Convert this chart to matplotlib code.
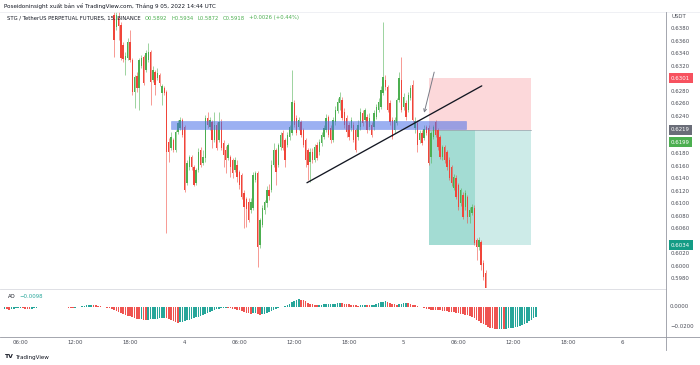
import numpy as np
import pandas as pd
import matplotlib
matplotlib.use("Agg")
import matplotlib.pyplot as plt
import matplotlib.dates as mdates
import matplotlib.transforms as mtransforms
from matplotlib.patches import Rectangle
from matplotlib.lines import Line2D

plt.rcParams['font.family'] = ['DejaVu Sans']

# ---------------- data ----------------
candle_start = '2022-09-03 16:15'   # 15-minute candles
opens = [
    .6402, .6383, .6398, .6386, .6354, .6330, .6334, .6359, .6330, .6279,
    .6305, .6286, .6321, .6335, .6314, .6330, .6343, .6298, .6311, .6302,
    .6306, .6278, .6286, .6279, .6199, .6190, .6202, .6186, .6215, .6222,
    .6234, .6223, .6134, .6159, .6175, .6159, .6134, .6154, .6186, .6166,
    .6174, .6238, .6223, .6231, .6202, .6226, .6202, .6231, .6198, .6186,
    .6174, .6175, .6170, .6154, .6162, .6151, .6146, .6118, .6108, .6103,
    .6090, .6094, .6138, .6150, .6034, .6066, .6090, .6102, .6122, .6122,
    .6162, .6186, .6162, .6191, .6214, .6202, .6194, .6207, .6214, .6262,
    .6238, .6223, .6231, .6218, .6202, .6186, .6167, .6183, .6170, .6194,
    .6183, .6198, .6207, .6218, .6239, .6222, .6202, .6231, .6249, .6262,
    .6266, .6247, .6238, .6226, .6222, .6226, .6218, .6207, .6223, .6246,
    .6234, .6239, .6223, .6226, .6223, .6239, .6250, .6255, .6278, .6298,
    .6287, .6262, .6234, .6218, .6230, .6266, .6298, .6255, .6262, .6250,
    .6270, .6290, .6222, .6230, .6202, .6214, .6206, .6223, .6222, .6175,
    .6207, .6231, .6218, .6207, .6175, .6191, .6183, .6170, .6159, .6126,
    .6142, .6130, .6102, .6114, .6095, .6111, .6079, .6086, .6094, .6042,
    .6031, .6039, .6006, .5990, .5954, .5938, .5946, .5927, .5914, .5922,
    .5906, .5898, .5911, .5902, .5890, .5882, .5894, .5886, .5874, .5882,
    .5890, .5880, .5886, .5878, .5870, .5892]
highs = [
    .6418, .6418, .6410, .6391, .6359, .6343, .6366, .6378, .6334, .6306,
    .6311, .6334, .6338, .6338, .6346, .6358, .6346, .6321, .6314, .6318,
    .6310, .6292, .6289, .6282, .6206, .6215, .6206, .6218, .6234, .6239,
    .6238, .6226, .6170, .6178, .6178, .6162, .6158, .6190, .6191, .6186,
    .6242, .6247, .6239, .6234, .6247, .6231, .6247, .6236, .6202, .6193,
    .6198, .6178, .6174, .6175, .6170, .6154, .6150, .6122, .6111, .6110,
    .6110, .6151, .6153, .6153, .6078, .6098, .6106, .6129, .6132, .6170,
    .6198, .6190, .6198, .6215, .6218, .6206, .6215, .6226, .6314, .6266,
    .6242, .6239, .6234, .6222, .6206, .6190, .6190, .6190, .6196, .6199,
    .6204, .6215, .6226, .6244, .6242, .6226, .6239, .6257, .6270, .6279,
    .6271, .6254, .6242, .6231, .6239, .6231, .6222, .6234, .6254, .6250,
    .6254, .6244, .6246, .6231, .6250, .6260, .6270, .6289, .6391, .6306,
    .6290, .6266, .6239, .6239, .6270, .6311, .6335, .6278, .6266, .6279,
    .6290, .6298, .6239, .6234, .6218, .6218, .6226, .6226, .6226, .6217,
    .6226, .6234, .6222, .6210, .6194, .6194, .6186, .6175, .6162, .6148,
    .6146, .6134, .6126, .6119, .6122, .6114, .6095, .6100, .6098, .6046,
    .6047, .6042, .6010, .5994, .5960, .5950, .5949, .5931, .5928, .5925,
    .5910, .5915, .5914, .5905, .5893, .5898, .5897, .5889, .5888, .5895,
    .5893, .5892, .5889, .5882, .5896, .5934]
lows = [
    .6335, .6378, .6362, .6330, .6327, .6306, .6330, .6327, .6274, .6254,
    .6279, .6250, .6318, .6290, .6311, .6327, .6258, .6295, .6274, .6298,
    .6289, .6258, .6274, .6054, .6167, .6186, .6183, .6183, .6212, .6218,
    .6207, .6119, .6130, .6154, .6154, .6129, .6130, .6151, .6159, .6162,
    .6167, .6222, .6218, .6190, .6199, .6186, .6199, .6186, .6159, .6150,
    .6170, .6143, .6142, .6151, .6135, .6124, .6108, .6062, .6063, .6071,
    .6086, .6090, .6135, .5999, .6030, .6063, .6084, .6095, .6106, .6119,
    .6159, .6130, .6159, .6186, .6186, .6159, .6191, .6202, .6210, .6223,
    .6210, .6218, .6207, .6191, .6159, .6138, .6135, .6166, .6167, .6170,
    .6178, .6193, .6204, .6215, .6207, .6198, .6199, .6226, .6246, .6250,
    .6234, .6222, .6207, .6202, .6217, .6199, .6183, .6202, .6218, .6225,
    .6231, .6214, .6218, .6207, .6218, .6236, .6247, .6252, .6274, .6282,
    .6247, .6226, .6204, .6214, .6226, .6263, .6247, .6250, .6234, .6247,
    .6266, .6231, .6214, .6183, .6198, .6194, .6202, .6210, .6162, .6166,
    .6204, .6207, .6186, .6172, .6170, .6166, .6154, .6138, .6129, .6122,
    .6108, .6090, .6097, .6076, .6090, .6070, .6070, .6082, .6034, .6010,
    .6026, .5994, .5978, .5946, .5930, .5932, .5922, .5909, .5908, .5901,
    .5894, .5895, .5898, .5885, .5876, .5878, .5882, .5870, .5868, .5879,
    .5875, .5876, .5874, .5866, .5868, .5872]
closes = [
    .6362, .6402, .6385, .6334, .6332, .6337, .6359, .6330, .6279, .6303,
    .6286, .6330, .6334, .6294, .6342, .6343, .6295, .6314, .6290, .6310,
    .6294, .6289, .6278, .6183, .6183, .6207, .6186, .6215, .6230, .6234,
    .6210, .6122, .6166, .6175, .6159, .6130, .6154, .6183, .6162, .6175,
    .6238, .6226, .6234, .6202, .6226, .6190, .6231, .6190, .6178, .6170,
    .6194, .6159, .6150, .6170, .6143, .6130, .6111, .6095, .6092, .6074,
    .6103, .6146, .6150, .6031, .6074, .6094, .6103, .6122, .6113, .6162,
    .6186, .6151, .6194, .6210, .6190, .6170, .6210, .6223, .6263, .6226,
    .6214, .6234, .6210, .6194, .6170, .6162, .6183, .6170, .6191, .6174,
    .6199, .6210, .6222, .6238, .6210, .6202, .6234, .6250, .6263, .6271,
    .6238, .6226, .6215, .6207, .6234, .6202, .6186, .6226, .6247, .6230,
    .6250, .6218, .6238, .6210, .6246, .6255, .6263, .6282, .6303, .6287,
    .6250, .6231, .6207, .6234, .6266, .6302, .6250, .6271, .6239, .6274,
    .6286, .6234, .6233, .6194, .6214, .6198, .6220, .6214, .6166, .6214,
    .6223, .6210, .6191, .6175, .6191, .6170, .6159, .6142, .6134, .6143,
    .6111, .6095, .6122, .6079, .6118, .6079, .6090, .6095, .6038, .6031,
    .6042, .6002, .5983, .5954, .5938, .5946, .5927, .5914, .5922, .5906,
    .5898, .5911, .5902, .5890, .5882, .5894, .5886, .5874, .5882, .5890,
    .5880, .5886, .5878, .5870, .5892, .5918]

ao_start = '2022-09-03 04:15'
ao_values = [
    -0.0015, -0.0020, -0.0025, -0.0022, -0.0018, -0.0012, -0.0010, -0.0008, -0.0012, -0.0015,
    -0.0018, -0.0020, -0.0016, -0.0012, -0.0008, -0.0004, -0.0002, 0.0001, 0.0003, 0.0002,
    0.0000, -0.0002, -0.0001, 0.0001,
    0.0002, 0.0001, -0.0001, -0.0003, -0.0005, -0.0006, -0.0008, -0.0006, -0.0003, 0.0000,
    0.0006, 0.0012, 0.0018, 0.0022, 0.0025, 0.0022, 0.0018, 0.0014, 0.0008, 0.0003,
    -0.0002, -0.0008, -0.0014, -0.0020, -0.0028, -0.0036, -0.0045, -0.0055, -0.0065, -0.0075,
    -0.0085, -0.0093, -0.0100,
    -0.0110, -0.0118, -0.0123, -0.0120, -0.0125, -0.0128,
    -0.0126, -0.0123, -0.0121, -0.0118, -0.0116, -0.0113, -0.0110, -0.0108, -0.0112, -0.0120,
    -0.0130, -0.0140,
    -0.0148, -0.0155, -0.0150, -0.0145,
    -0.0140, -0.0134, -0.0128, -0.0120, -0.0112, -0.0104, -0.0095, -0.0086, -0.0077, -0.0068,
    -0.0058,
    -0.0048, -0.0038, -0.0030, -0.0022, -0.0016, -0.0012, -0.0010,
    -0.0009, -0.0011, -0.0013, -0.0016, -0.0020, -0.0026, -0.0033, -0.0040,
    -0.0048, -0.0055, -0.0062, -0.0066, -0.0063, -0.0060, -0.0068, -0.0075, -0.0072, -0.0066,
    -0.0058, -0.0050, -0.0040, -0.0030, -0.0022, -0.0012, -0.0004, 0.0005, 0.0015, 0.0025,
    0.0035,
    0.0048, 0.0062, 0.0072, 0.0080,
    0.0074, 0.0066, 0.0056, 0.0045, 0.0035, 0.0027, 0.0022,
    0.0020, 0.0021, 0.0024, 0.0027, 0.0030, 0.0032, 0.0033, 0.0034, 0.0035, 0.0036,
    0.0038, 0.0036, 0.0033, 0.0030,
    0.0026, 0.0022, 0.0019, 0.0016, 0.0015, 0.0016, 0.0018, 0.0020, 0.0019, 0.0018,
    0.0020, 0.0024, 0.0030,
    0.0038, 0.0046, 0.0053, 0.0056,
    0.0050, 0.0042, 0.0033, 0.0026, 0.0024,
    0.0028, 0.0034, 0.0038, 0.0040, 0.0036,
    0.0030, 0.0024, 0.0018, 0.0010, 0.0003, -0.0004, -0.0010, -0.0015,
    -0.0022, -0.0026, -0.0028, -0.0030, -0.0032, -0.0034, -0.0036, -0.0038, -0.0041, -0.0045,
    -0.0050, -0.0054, -0.0058, -0.0062, -0.0066, -0.0070, -0.0076, -0.0083,
    -0.0092, -0.0102, -0.0114, -0.0128, -0.0142, -0.0156, -0.0170, -0.0184, -0.0196, -0.0206,
    -0.0214, -0.0219, -0.0222, -0.0220, -0.0218, -0.0219, -0.0216, -0.0212, -0.0208, -0.0205,
    -0.0200, -0.0196, -0.0190, -0.0180, -0.0168, -0.0155, -0.0140, -0.0125, -0.0110, -0.0098]

price_ticks = [0.5980, 0.6000, 0.6020, 0.6060, 0.6080, 0.6100, 0.6120, 0.6140, 0.6160,
               0.6180, 0.6240, 0.6260, 0.6280, 0.6320, 0.6340, 0.6360, 0.6380]
marker_prices = [0.6301, 0.6219, 0.6199, 0.6034]
marker_colors = ['#f7525f', '#6a6d78', '#4caf50', '#139c85']
ao_ticks = [0.0, -0.02]
ao_tick_labels = ['0.0000', '\u22120.0200']

time_ticks = ['2022-09-03 06:00', '2022-09-03 12:00', '2022-09-03 18:00', '2022-09-04 00:00',
              '2022-09-04 06:00', '2022-09-04 12:00', '2022-09-04 18:00', '2022-09-05 00:00',
              '2022-09-05 06:00', '2022-09-05 12:00', '2022-09-05 18:00', '2022-09-06 00:00']
time_labels = ['06:00', '12:00', '18:00', '4', '06:00', '12:00', '18:00', '5',
               '06:00', '12:00', '18:00', '6']
view_start, view_end = '2022-09-03 04:11', '2022-09-06 04:46'
price_min, price_max = 0.59656, 0.64072
ao_min, ao_max = -0.029, 0.017

# drawings
zone_start, zone_end = '2022-09-03 22:30', '2022-09-05 06:51'
zone_low, zone_high = 0.6220, 0.6233
pos_start, pos_split, pos_end = '2022-09-05 02:48', '2022-09-05 07:50', '2022-09-05 13:58'
pos_stop, pos_entry, pos_target = 0.6301, 0.6219, 0.6034
trend_times = ['2022-09-04 13:24', '2022-09-05 08:34']
trend_prices = [0.6134, 0.6289]
arrow_from = ('2022-09-05 03:21', 0.6311)
arrow_to = ('2022-09-05 02:15', 0.6246)

UP, DOWN = '#4caf50', '#f0453a'
AO_UP, AO_DOWN = '#26a69a', '#ef5350'
TXT = '#4a4d57'

def d(s):
    return mdates.date2num(pd.Timestamp(s))

# ---------------- figure ----------------
W, H = 700, 365
fig = plt.figure(figsize=(7, 3.65), dpi=100)
fig.patch.set_facecolor('white')

def fx(x):
    return x / W

def fy(y):
    return 1 - y / H

ax = fig.add_axes([fx(4), fy(288), fx(666 - 4), (288 - 12) / H])
ax_ao = fig.add_axes([fx(4), fy(336), fx(666 - 4), (336 - 290) / H], sharex=ax)
for a in (ax, ax_ao):
    for s in a.spines.values():
        s.set_visible(False)
    a.set_xticks([])
    a.set_yticks([])
    a.set_facecolor('none')

ax.set_xlim(d(view_start), d(view_end))
ax.set_ylim(price_min, price_max)
ax_ao.set_ylim(ao_min, ao_max)

# candles
t = mdates.date2num(pd.date_range(candle_start, periods=len(closes), freq='15min'))
o = np.array(opens); h = np.array(highs); l = np.array(lows); c = np.array(closes)
cols = [UP if cc >= oo else DOWN for oo, cc in zip(o, c)]
step = 1 / 96
ax.vlines(t, l, h, colors=cols, lw=0.45, alpha=0.85, zorder=2)
body_lo = np.minimum(o, c)
body_h = np.maximum(np.abs(c - o), 0.00006)
ax.bar(t, body_h, bottom=body_lo, width=step * 0.6, color=cols, lw=0, zorder=2.1)

# position tool
ax.add_patch(Rectangle((d(pos_start), pos_entry), d(pos_end) - d(pos_start), pos_stop - pos_entry,
                       fc='#fcd8da', ec='none', zorder=0.5))
ax.add_patch(Rectangle((d(pos_start), pos_target), d(pos_split) - d(pos_start), pos_entry - pos_target,
                       fc='#a3dcd3', ec='none', zorder=0.5))
ax.add_patch(Rectangle((d(pos_split), pos_target), d(pos_end) - d(pos_split), pos_entry - pos_target,
                       fc='#cdebe8', ec='none', zorder=0.5))
ax.plot([d(pos_start), d(pos_end)], [pos_entry, pos_entry], color='#9aa0aa', lw=0.5, zorder=0.6)

# blue zone
ax.add_patch(Rectangle((d(zone_start), zone_low), d(zone_end) - d(zone_start), zone_high - zone_low,
                       fc='#4a6fe8', alpha=0.55, ec='#4a6fe8', lw=0.4, zorder=3))

# trend line & arrow
ax.plot([d(x) for x in trend_times], trend_prices, color='#131722', lw=0.95, zorder=4,
        solid_capstyle='round')
ax.annotate('', xy=(d(arrow_to[0]), arrow_to[1]), xytext=(d(arrow_from[0]), arrow_from[1]),
            arrowprops=dict(arrowstyle='->', color='#787b86', lw=0.7, mutation_scale=5,
                            shrinkA=0, shrinkB=0), zorder=4)

# AO histogram
ta = mdates.date2num(pd.date_range(ao_start, periods=len(ao_values), freq='15min'))
aov = np.array(ao_values)
ao_cols = [AO_UP] + [AO_UP if aov[i] >= aov[i - 1] else AO_DOWN for i in range(1, len(aov))]
ax_ao.bar(ta, aov, width=step * 0.7, color=ao_cols, lw=0, zorder=2)

# price axis labels
trans = mtransforms.blended_transform_factory(ax.transAxes, ax.transData)
for p in price_ticks:
    ax.text(1 + 5 / 662, p, f'{p:.4f}', transform=trans, fontsize=3.9, color=TXT,
            va='center', ha='left', clip_on=False)
for p, col in zip(marker_prices, marker_colors):
    ax.text(1 + 5 / 662, p, f'{p:.4f}', transform=trans, fontsize=3.9, color='white',
            va='center', ha='left', clip_on=False,
            bbox=dict(boxstyle='square,pad=0.45', fc=col, ec='none'))
ax.text(1 + 5 / 662, 1 - 4 / 276, 'USDT', transform=ax.transAxes, fontsize=3.9, color=TXT,
        va='center', ha='left')

trans_ao = mtransforms.blended_transform_factory(ax_ao.transAxes, ax_ao.transData)
for v, lab in zip(ao_ticks, ao_tick_labels):
    ax_ao.text(1 + 4 / 662, v, lab, transform=trans_ao, fontsize=3.9, color=TXT,
               va='center', ha='left', clip_on=False)

# time axis labels
trans_t = mtransforms.blended_transform_factory(ax_ao.transData, fig.transFigure)
for tt, lab in zip(time_ticks, time_labels):
    ax_ao.text(d(tt), fy(343), lab, transform=trans_t, fontsize=3.9, color=TXT,
               va='center', ha='center', clip_on=False)

# frame lines
lc = '#d9dbe0'
fig.add_artist(Line2D([0, 1], [fy(12), fy(12)], color='#eceef2', lw=0.6))
fig.add_artist(Line2D([fx(0), fx(666)], [fy(289), fy(289)], color=lc, lw=0.6))
fig.add_artist(Line2D([0, 1], [fy(337), fy(337)], color='#9598a1', lw=0.6))
fig.add_artist(Line2D([fx(666), fx(666)], [fy(12), fy(350)], color='#9598a1', lw=0.6))

# header texts
fig.text(fx(4), fy(6), 'Poseidoninsight xuất bản về TradingView.com, Tháng 9 05, 2022 14:44 UTC',
         fontsize=4.1, color='#131722', va='center', ha='left')
prev = fig.text(fx(7), fy(18), 'STG / TetherUS PERPETUAL FUTURES, 15, BINANCE',
                fontsize=3.8, color='#131722', va='center', ha='left')
for s in ['O0.5892', 'H0.5934', 'L0.5872', 'C0.5918', '+0.0026 (+0.44%)']:
    prev = ax.annotate(s, xy=(1, 0.5), xycoords=prev, xytext=(4, 0), textcoords='offset pixels',
                       va='center', ha='left', fontsize=3.8, color='#4caf50',
                       annotation_clip=False)

a1 = fig.text(fx(8), fy(296), 'AO', fontsize=3.9, color='#131722', va='center', ha='left')
ax_ao.annotate('\u22120.0098', xy=(1, 0.5), xycoords=a1, xytext=(4, 0), textcoords='offset pixels',
               va='center', ha='left', fontsize=3.9, color='#26a69a', annotation_clip=False)

t1 = fig.text(fx(5), fy(357), 'TV', fontsize=4.4, color='#131722', weight='bold',
              va='center', ha='left')
ax_ao.annotate('TradingView', xy=(1, 0.5), xycoords=t1, xytext=(2, 0), textcoords='offset pixels',
               va='center', ha='left', fontsize=4.1, color='#131722', annotation_clip=False)

fig.savefig('out.png', dpi=100, facecolor='white')
